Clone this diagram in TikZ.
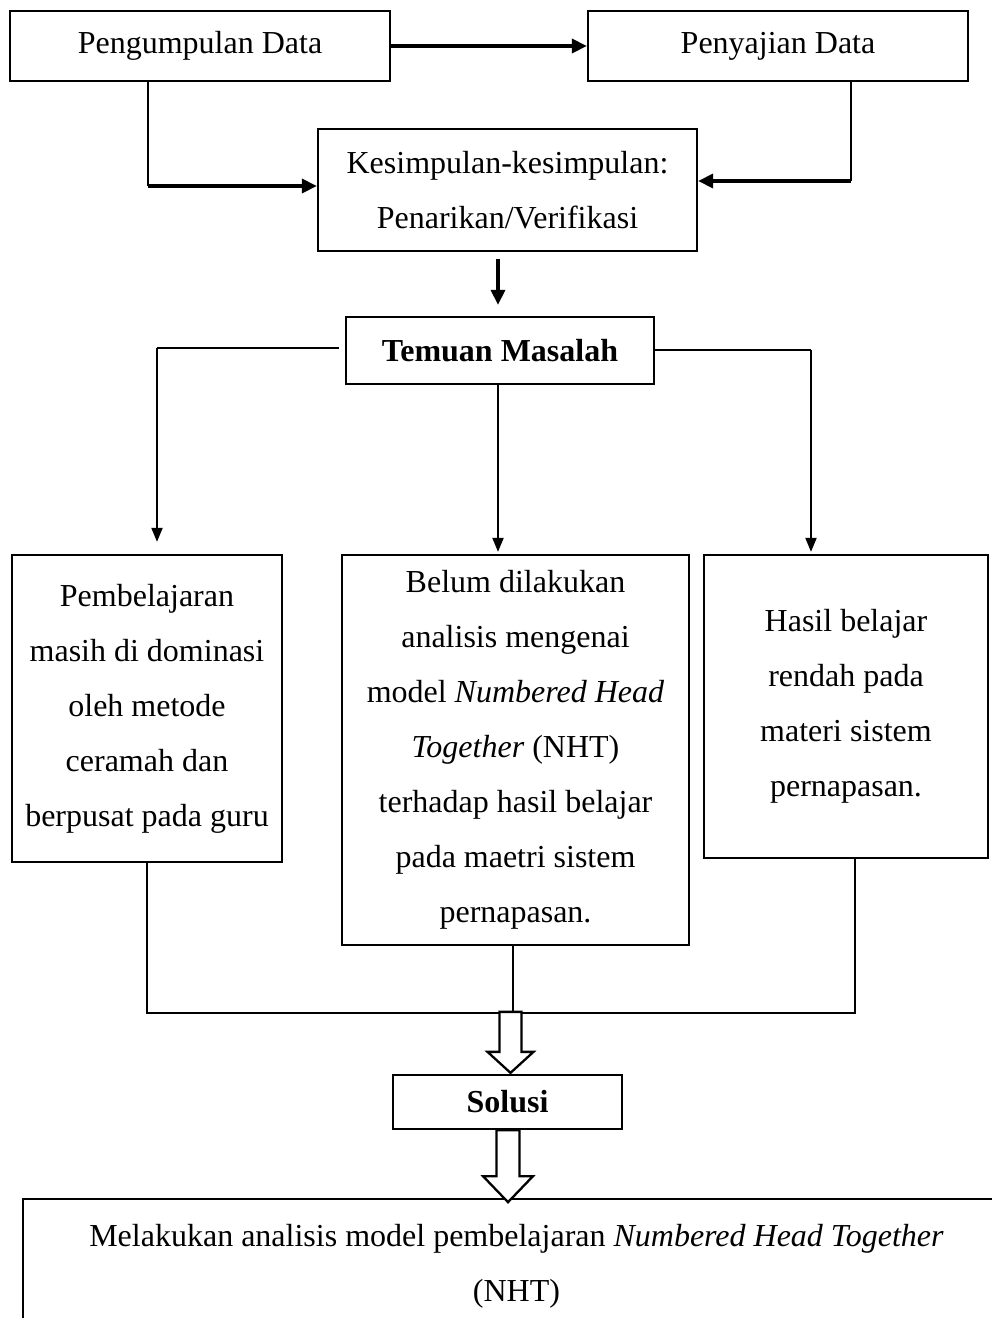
\documentclass[tikz,border=0pt]{standalone}
\usepackage{fontspec}
\setmainfont{Liberation Serif}
\usetikzlibrary{arrows.meta,calc}
\begin{document}
\begin{tikzpicture}[x=1pt,y=-1pt,
  box/.style={draw, line width=2.3pt, inner sep=0pt, align=center, font=\fontsize{32}{55}\selectfont},
  thinline/.style={line width=1.2pt},
  bigarr/.style={line width=3.5pt, -{Triangle[length=15pt,width=14pt]}},
  medarr/.style={line width=2pt, -{Triangle[length=14pt,width=11pt]}},
  hollow/.style={draw, line width=2.3pt, fill=white, line join=miter}
]
\useasboundingbox (0,0) rectangle (992,1318);
\clip (0,0) rectangle (992,1318);

% top row
\node[box, minimum width=380, minimum height=70] (pd) at (200,46) {Pengumpulan Data};
\node[box, minimum width=380, minimum height=70] (ps) at (778,46) {\raisebox{5pt}{Penyajian Data}};
\node[box, minimum width=379, minimum height=122] (ks) at (507.5,190) {Kesimpulan-kesimpulan:\\Penarikan/Verifikasi};
\node[box, minimum width=308, minimum height=67, font=\fontsize{32}{55}\selectfont\bfseries] (tm) at (500,350.5) {Temuan Masalah};

% three problem boxes
\node[box, minimum width=270, minimum height=307] (bl) at (147,708.5) {Pembelajaran\\masih di dominasi\\oleh metode\\ceramah dan\\berpusat pada guru};
\node[box, minimum width=347, minimum height=390] (bm) at (515.5,750) {Belum dilakukan\\analisis mengenai\\model \textit{Numbered Head}\\\textit{Together} (NHT)\\terhadap hasil belajar\\pada maetri sistem\\pernapasan.};
\node[box, minimum width=284, minimum height=303] (br) at (846,706.5) {Hasil belajar\\rendah pada\\materi sistem\\pernapasan.};

\node[box, minimum width=229, minimum height=54, font=\fontsize{32}{55}\selectfont\bfseries] (so) at (507.5,1102) {Solusi};
\node[box, minimum width=987, minimum height=134] (bb) at (516.5,1266) {Melakukan analisis model pembelajaran \textit{Numbered Head Together}\\(NHT)};

% top connectors
\draw[bigarr] (pd.east) -- (ps.west);
\coordinate (l1) at (148,186);
\coordinate (r1) at (851,181);
\draw[thinline] (l1 |- pd.south) -- (l1);
\draw[bigarr] (l1) -- (ks.west |- l1);
\draw[thinline] (r1 |- ps.south) -- (r1);
\draw[bigarr] (r1) -- (ks.east |- r1);

\coordinate (k1) at (498,0);
\draw[bigarr, shorten <=7pt, shorten >=11pt] (k1 |- ks.south) -- (k1 |- tm.north);

% Temuan connectors
\coordinate (tl) at (157,348);
\coordinate (tr) at (811,350);
\draw[thinline] ([xshift=-6pt]tm.west |- tl) -- (tl);
\draw[medarr, shorten >=12pt] (tl) -- (tl |- bl.north);
\draw[medarr, shorten >=2pt] (k1 |- tm.south) -- (k1 |- bm.north);
\draw[thinline] (tm.east |- tr) -- (tr);
\draw[medarr, shorten >=2pt] (tr) -- (tr |- br.north);

% bottom join
\coordinate (j1) at (147,1013);
\coordinate (j2) at (513,1013);
\coordinate (j3) at (855,1013);
\draw[thinline] (j1 |- bl.south) -- (j1) -- (j3) -- (j3 |- br.south);
\draw[thinline] (j2 |- bm.south) -- (j2);

% hollow arrows
\path[hollow] ($(so.north)+(3,-1)$) ++(-11,-61) -- ++(22,0) -- ++(0,40) -- ++(12,0) -- ++(-23,21) -- ++(-23,-21) -- ++(12,0) -- cycle;
\path[hollow] ($(so.south)+(0.5,0)$) ++(-11.5,0) -- ++(23,0) -- ++(0,46) -- ++(13.5,0) -- ++(-25,26) -- ++(-25,-26) -- ++(13.5,0) -- cycle;
\end{tikzpicture}
\end{document}
